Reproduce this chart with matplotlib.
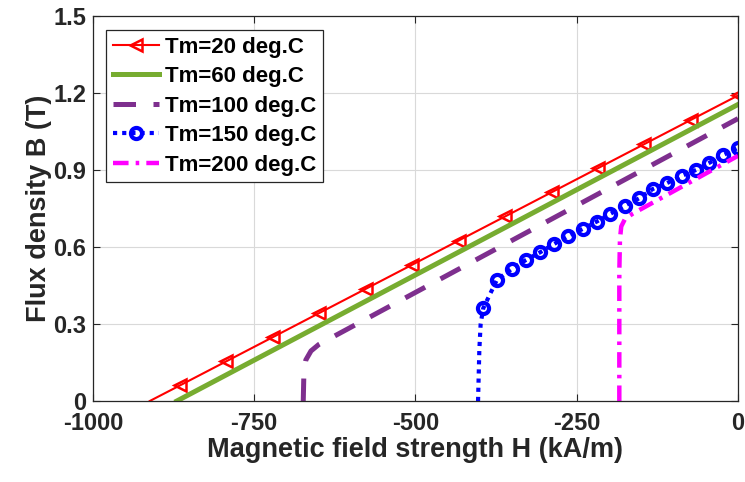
import numpy as np
import matplotlib
matplotlib.use('Agg')
import matplotlib.pyplot as plt

plt.rcParams['font.family'] = ['Liberation Sans', 'DejaVu Sans']
plt.rcParams['font.weight'] = 'bold'

# values (H in kA/m, B in T)
h20 = [-912, -865, -793, -721, -649, -577, -505, -433, -361, -289, -217, -145, -73, 0]
b20 = [0.0, 0.061, 0.155, 0.249, 0.343, 0.437, 0.531, 0.625, 0.719, 0.813, 0.907, 1.001, 1.095, 1.19]

h60 = [-870, 0]
b60 = [0.0, 1.155]

h100 = [-674, -673, -670, -662, -650, 0]
b100 = [0.0, 0.11, 0.16, 0.195, 0.22, 1.10]

h150 = [-403, -401, -399, -395, -374, -351, -329, -307, -285, -263, -241, -219,
        -198, -175, -153, -132, -110, -87, -65, -45, -23, 0]
b150 = [0.0, 0.20, 0.30, 0.361, 0.471, 0.514, 0.549, 0.579, 0.612, 0.643, 0.670, 0.699,
        0.729, 0.761, 0.79, 0.826, 0.849, 0.877, 0.900, 0.927, 0.958, 0.986]

h200 = [-184, -184, -183, -181, -175, -163, 0]
b200 = [0.0, 0.50, 0.63, 0.68, 0.71, 0.73, 0.955]

labels = ['Tm=20 deg.C', 'Tm=60 deg.C', 'Tm=100 deg.C', 'Tm=150 deg.C', 'Tm=200 deg.C']
xticks = [-1000, -750, -500, -250, 0]
yticks = [0, 0.3, 0.6, 0.9, 1.2, 1.5]

fig = plt.figure(figsize=(7.45, 4.82), dpi=100)
ax = fig.add_axes([0.1248, 0.168, 0.8658, 0.799])

ax.plot(h20, b20, color='red', lw=1.5, marker='<', markevery=list(range(1, len(h20))),
        ms=8, mfc='none', mew=1.8, label=labels[0])
ax.plot(h60, b60, color=(0.466, 0.674, 0.188), lw=3.6, label=labels[1])
ax.plot(h100, b100, color=(0.494, 0.184, 0.556), lw=3.6, dashes=(4.5, 3.5), label=labels[2])
ax.plot(h150, b150, color='blue', lw=3.0, ls=(0, (1, 1.2)), marker='o',
        markevery=list(range(3, len(h150))), ms=8, mfc='none', mew=3.0, label=labels[3])
ax.plot(h200, b200, color=(1, 0, 1), lw=3.2, dashes=(3.5, 1.6, 0.8, 1.6), label=labels[4])

ax.set_xlim(-1000, 0)
ax.set_ylim(0, 1.5)
ax.set_xticks(xticks)
ax.set_yticks(yticks)
ax.set_xticklabels([str(t) for t in xticks])
ax.set_yticklabels(['0', '0.3', '0.6', '0.9', '1.2', '1.5'])
ax.grid(True, color='#d9d9d9', lw=0.8)
ax.set_axisbelow(True)
ax.tick_params(direction='in', length=5, width=0.8, top=True, right=True,
               labelsize=17, colors='#262626')
ax.tick_params(axis='x', pad=8)
ax.tick_params(axis='y', pad=5)
for s in ax.spines.values():
    s.set_color('#262626')
    s.set_linewidth(0.9)

ax.set_xlabel('Magnetic field strength H (kA/m)', fontsize=19.5, fontweight='bold',
              color='#262626', labelpad=1)
ax.set_ylabel('Flux density B (T)', fontsize=19.5, fontweight='bold',
              color='#262626', labelpad=1)

leg = ax.legend(loc='upper left', bbox_to_anchor=(0.02, 0.963), fontsize=16,
                frameon=True, fancybox=False, edgecolor='#262626', framealpha=1,
                handlelength=2.1, handletextpad=0.25, labelspacing=0.38,
                borderpad=0.3, borderaxespad=0)
leg.get_frame().set_linewidth(0.9)
for t in leg.get_texts():
    t.set_fontweight('bold')

fig.savefig('out.png', dpi=100)
